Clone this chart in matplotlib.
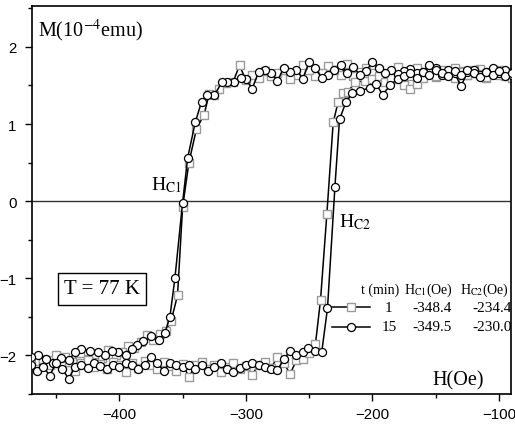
import matplotlib
matplotlib.use("Agg")
import matplotlib.pyplot as plt
from matplotlib.lines import Line2D
from matplotlib.ticker import MultipleLocator

plt.rcParams['font.family'] = 'Liberation Sans'
plt.rcParams['mathtext.fontset'] = 'stix'

# t = 15 min (circles), descending branch.
c_dec_h = [-90, -95, -100, -105, -110, -115, -120, -125, -130, -135, -140,
           -145, -150, -155, -160, -165, -170, -175, -180, -185, -190, -195,
           -200, -205, -210, -215, -220, -225, -230, -235, -240, -245, -250,
           -255, -260, -265, -270, -275, -280, -285, -290, -295, -300,
           -304, -309, -315, -319, -325, -331, -335, -340, -346, -350, -356,
           -360, -364, -369, -375, -381, -386, -390, -395, -401, -406, -411,
           -417, -423, -430, -435, -440, -446, -452, -458, -464, -470]
c_dec_m = [1.64, 1.70, 1.66, 1.72, 1.68, 1.64, 1.70, 1.67, 1.49, 1.66, 1.70,
           1.64, 1.72, 1.76, 1.68, 1.66, 1.71, 1.69, 1.65, 1.70, 1.66, 1.73,
           1.80, 1.69, 1.64, 1.74, 1.66, 1.76, 1.70, 1.64, 1.60, 1.72, 1.80,
           1.59, 1.70, 1.68, 1.73, 1.56, 1.66, 1.70, 1.67, 1.46, 1.58,
           1.60, 1.54, 1.54, 1.54, 1.37, 1.37, 1.29, 1.02, 0.56, -0.02, -0.99,
           -1.50, -1.71, -1.80, -1.75, -1.81, -1.86, -1.92, -1.99, -1.96, -1.94,
           -1.99, -1.96, -1.94, -1.92, -1.96, -2.06, -2.03, -2.10, -2.04, -1.99,
           -2.02]

# t = 15 min (circles), ascending branch.
c_asc_h = [-470, -465, -460, -455, -450, -445, -440, -435, -430, -425, -420,
           -415, -410, -405, -400, -395, -390, -385, -380, -375, -370, -365,
           -360, -355, -350, -345, -340, -335, -330, -325, -320, -315, -310,
           -305, -300, -295, -290, -285, -280, -275, -270,
           -265, -260, -255, -251, -245, -240, -235.5, -229.6, -226, -221,
           -216, -210, -202, -197, -192, -186, -180, -175, -170, -165, -160,
           -155, -150, -145, -140, -135, -130, -125, -120, -115, -110, -105,
           -100, -95, -90]
c_asc_m = [-2.12, -2.20, -2.15, -2.26, -2.10, -2.18, -2.30, -2.15, -2.12,
           -2.16, -2.10, -2.14, -2.18, -2.12, -2.15, -2.10, -2.13, -2.17,
           -2.12, -2.02, -2.10, -2.20, -2.10, -2.12, -2.15, -2.12, -2.17,
           -2.13, -2.20, -2.15, -2.10, -2.17, -2.22, -2.16, -2.13, -2.10,
           -2.12, -2.15, -2.18, -2.19, -2.05,
           -1.94, -2.00, -1.95, -1.90, -1.94, -1.95, -1.39, 0.19, 1.06, 1.28,
           1.40, 1.43, 1.47, 1.52, 1.38, 1.50, 1.59, 1.62, 1.66, 1.60, 1.68,
           1.63, 1.70, 1.66, 1.62, 1.69, 1.64, 1.70, 1.66, 1.61, 1.68, 1.64,
           1.69, 1.62, 1.66]

# t = 1 min (squares), descending branch.
s_dec_h = [-90, -95, -100, -105, -110, -115, -120, -125, -130, -135, -140,
           -145, -150, -155, -160, -165, -170, -175, -180, -185, -190, -195,
           -200, -205, -210, -215, -220, -225, -230, -235, -240, -245, -250,
           -255, -260, -265, -270, -275, -280, -285, -290, -295, -300,
           -305, -310, -316, -321, -325, -329, -333, -339, -345, -350, -354,
           -359, -363, -368, -373, -378, -383, -388, -393, -398, -403, -409,
           -414, -420, -425, -431, -437, -443, -449, -455, -461, -467]
s_dec_m = [1.68, 1.62, 1.70, 1.65, 1.60, 1.71, 1.66, 1.63, 1.69, 1.72, 1.64,
           1.67, 1.61, 1.70, 1.66, 1.73, 1.62, 1.68, 1.74, 1.64, 1.60, 1.70,
           1.66, 1.73, 1.68, 1.62, 1.78, 1.64, 1.70, 1.75, 1.66, 1.62, 1.70,
           1.76, 1.64, 1.58, 1.70, 1.66, 1.62, 1.69, 1.60, 1.64, 1.57,
           1.76, 1.55, 1.53, 1.45, 1.37, 1.39, 1.12, 0.94, 0.50, -0.08, -1.22,
           -1.55, -1.68, -1.72, -1.80, -1.74, -1.82, -1.90, -1.88, -1.96, -2.00,
           -1.93, -2.03, -1.98, -2.05, -1.97, -2.08, -2.02, -2.10, -2.06, -2.12,
           -2.08]

# t = 1 min (squares), ascending branch.
s_asc_h = [-470, -465, -460, -455, -450, -445, -440, -435, -430, -425, -420,
           -415, -410, -405, -400, -395, -390, -385, -380, -375, -370, -365,
           -360, -355, -350, -345, -340, -335, -330, -325, -320, -315, -310,
           -305, -300, -295, -290, -285, -280, -275, -270, -265, -260, -255,
           -250, -245, -241, -236, -231, -227, -223, -219, -214, -206, -200,
           -195, -190, -185, -180, -175, -170, -165, -160, -155, -150, -145,
           -140, -135, -130, -125, -120, -115, -110, -105, -100, -95, -90]
s_asc_m = [-2.09, -2.17, -2.05, -2.12, -2.00, -2.14, -2.08, -2.20, -2.10,
           -2.06, -2.15, -2.11, -2.18, -2.08, -2.13, -2.22, -2.10, -2.16,
           -2.07, -2.12, -2.18, -2.09, -2.14, -2.20, -2.11, -2.28, -2.13,
           -2.08, -2.17, -2.12, -2.22, -2.15, -2.10, -2.18, -2.14, -2.25,
           -2.12, -2.08, -2.16, -2.02, -2.10, -2.24, -2.06, -2.04,
           -1.97, -1.85, -1.28, -0.17, 1.02, 1.29, 1.40, 1.42, 1.54, 1.56, 1.58,
           1.62, 1.55, 1.60, 1.58, 1.50, 1.46, 1.52, 1.60, 1.66, 1.62, 1.70,
           1.65, 1.60, 1.67, 1.63, 1.70, 1.65, 1.61, 1.68, 1.63, 1.67, 1.60]

# Legend table.
t_min = ["1", "15"]
hc1 = ["-348.4", "-349.5"]
hc2 = ["-234.4", "-230.0"]

serif = 'Liberation Serif'
sq_style = dict(color='black', lw=1.1, marker='s', ms=5.2, mfc='white',
                mec='#9a9a9a', mew=1.0, zorder=2)
ci_style = dict(color='black', lw=1.1, marker='o', ms=5.8, mfc='white',
                mec='black', mew=0.9, zorder=3)

fig = plt.figure(figsize=(5.15, 4.27), dpi=100)
ax = fig.add_axes([0.0621, 0.0749, 0.9301, 0.9087])

ax.axhline(0, color='#333333', lw=1.0, zorder=1)

ax.plot(s_dec_h, s_dec_m, **sq_style)
ax.plot(s_asc_h, s_asc_m, **sq_style)
ax.plot(c_dec_h, c_dec_m, **ci_style)
ax.plot(c_asc_h, c_asc_m, **ci_style)

ax.set_xlim(-469, -90.5)
ax.set_ylim(-2.5, 2.53)

ax.xaxis.set_major_locator(MultipleLocator(100))
ax.xaxis.set_minor_locator(MultipleLocator(50))
ax.yaxis.set_major_locator(MultipleLocator(1))
ax.yaxis.set_minor_locator(MultipleLocator(0.5))
ax.tick_params(which='both', direction='out', top=False, right=False,
               width=1.0, labelsize=10.8)
ax.tick_params(which='major', length=5)
ax.tick_params(which='minor', length=3)
ax.tick_params(axis='x', pad=4)
ax.tick_params(axis='y', pad=6)
for sp in ax.spines.values():
    sp.set_linewidth(1.2)

# Axis labels inside the frame.
ax.text(0.0125, 0.923, r'M(10$^{-4}$emu)', transform=ax.transAxes,
        family=serif, fontsize=14.5, va='baseline', ha='left')
ax.text(0.889, 0.025, 'H(Oe)', transform=ax.transAxes,
        family=serif, fontsize=14.5, va='baseline', ha='center')

# Coercive field annotations.
ax.text(0.248, 0.528, r'H$_{\mathrm{C1}}$', transform=ax.transAxes,
        family=serif, fontsize=14, va='baseline', ha='left')
ax.text(0.641, 0.433, r'H$_{\mathrm{C2}}$', transform=ax.transAxes,
        family=serif, fontsize=14, va='baseline', ha='left')

ax.text(0.146, 0.271, 'T = 77 K', transform=ax.transAxes, family=serif,
        fontsize=15, ha='center', va='center',
        bbox=dict(boxstyle='square,pad=0.3', fc='white', ec='black', lw=1.0))

# Legend table.
hdr_y = 0.271
row_y = [0.224, 0.173]
ax.text(0.687, hdr_y, 't (min)', transform=ax.transAxes, family=serif,
        fontsize=10, ha='left', va='center')
ax.text(0.777, hdr_y, r'H$_{\mathrm{C1}}$(Oe)', transform=ax.transAxes,
        family=serif, fontsize=10, ha='left', va='center')
ax.text(0.893, hdr_y, r'H$_{\mathrm{C2}}$(Oe)', transform=ax.transAxes,
        family=serif, fontsize=10, ha='left', va='center')
for i, style in enumerate([sq_style, ci_style]):
    y = row_y[i]
    h = Line2D([0.626, 0.666, 0.706], [y, y, y], transform=ax.transAxes,
               markevery=[1], **style)
    ax.add_line(h)
    ax.text(0.745, y, t_min[i], transform=ax.transAxes, family=serif,
            fontsize=11, ha='center', va='center')
    ax.text(0.835, y, hc1[i], transform=ax.transAxes, family=serif,
            fontsize=11, ha='center', va='center')
    ax.text(0.960, y, hc2[i], transform=ax.transAxes, family=serif,
            fontsize=11, ha='center', va='center', clip_on=True)

fig.savefig('out.png', dpi=100)
